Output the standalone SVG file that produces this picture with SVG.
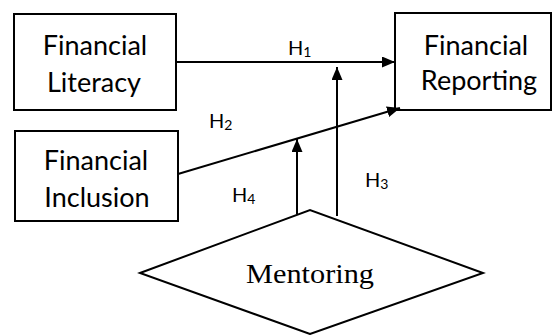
<svg xmlns="http://www.w3.org/2000/svg" width="552" height="335" viewBox="0 0 552 335">
<style>
.box{fill:#fff;stroke:#000;stroke-width:2}
.t{font-family:Lato,"Liberation Sans",sans-serif;font-size:27px;fill:#000;text-anchor:middle}
.h{font-family:Lato,"Liberation Sans",sans-serif;font-size:20px;fill:#000}
.sub{font-size:14px}
.c{stroke:#000;stroke-width:2;fill:none}
</style>
<defs>
<marker id="ah" markerUnits="userSpaceOnUse" markerWidth="13" markerHeight="11" refX="13" refY="5.5" orient="auto">
<path d="M0,0 L13,5.5 L0,11 z" fill="#000"/>
</marker>
</defs>
<rect width="552" height="335" fill="#fff"/>
<g id="literacy">
<rect class="box" x="14" y="14" width="162" height="96"/>
<text class="t" x="95" y="55">Financial</text>
<text class="t" x="94" y="92">Literacy</text>
</g>
<g id="inclusion">
<rect class="box" x="15" y="131" width="163" height="90"/>
<text class="t" x="96" y="170">Financial</text>
<text class="t" x="97" y="207">Inclusion</text>
</g>
<g id="reporting">
<rect class="box" x="395" y="13" width="156" height="97"/>
<text class="t" x="476" y="55">Financial</text>
<text class="t" x="479" y="90">Reporting</text>
</g>
<g id="mentoring">
<polygon class="box" points="140,273 310,210 483,273 310,334"/>
<text x="310" y="283" font-family="'Liberation Serif',serif" font-size="28" text-anchor="middle" textLength="128" lengthAdjust="spacingAndGlyphs">Mentoring</text>
</g>
<g id="connectors">
<line class="c" x1="176" y1="62" x2="395" y2="62" marker-end="url(#ah)"/>
<line class="c" x1="178" y1="174" x2="400" y2="108" marker-end="url(#ah)"/>
<line class="c" x1="297" y1="214" x2="297" y2="139" marker-end="url(#ah)"/>
<line class="c" x1="337" y1="216" x2="337" y2="67" marker-end="url(#ah)"/>
</g>
<g id="labels">
<text class="h" x="288" y="55">H<tspan class="sub" dy="2">1</tspan></text>
<text class="h" x="209" y="128">H<tspan class="sub" dy="2">2</tspan></text>
<text class="h" x="365" y="187">H<tspan class="sub" dy="2">3</tspan></text>
<text class="h" x="232" y="202">H<tspan class="sub" dy="2">4</tspan></text>
</g>
</svg>
